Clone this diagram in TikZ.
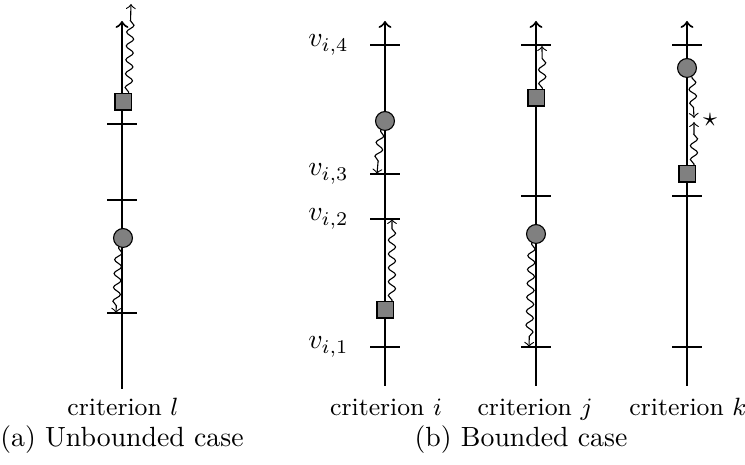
\documentclass[tikz,border=0pt]{standalone}
\usetikzlibrary{decorations.pathmorphing}
\begin{document}
\begin{tikzpicture}[x=0.36pt,y=-0.36pt,
  axis/.style={line width=0.75pt,->,>=to},
  tickmark/.style={line width=0.75pt},
  wave/.style={->,>=to,line width=0.4pt,decorate,decoration={snake,amplitude=1.3pt,segment length=5pt,pre length=0.5pt,post length=2.5pt}},
  sq/.style={draw,line width=0.4pt,fill=gray,minimum size=5.8pt,inner sep=0pt},
  dot/.style={draw,line width=0.4pt,fill=gray,circle,minimum size=6.8pt,inner sep=0pt},
  crit/.style={inner sep=0pt,font=\small,anchor=base},
  subcap/.style={inner sep=0pt,anchor=base},
  lab/.style={inner sep=1pt}]
\useasboundingbox (0,0) rectangle (745,465);
% axis l
\coordinate (lb) at (122,389); \coordinate (lt) at (122,21);
\draw[axis] (lb) -- (lt);
\foreach \y/\n in {124/l1,200/l2,313/l3}{\coordinate (\n) at (122,\y); \draw[tickmark] ([xshift=-5.4pt]\n) -- ([xshift=5.4pt]\n);}
\node[sq] (sl) at (123,102) {};
\node[dot] (cl) at (123,238) {};
\coordinate (wl1) at (131,4);
\coordinate (wl2) at (116,313);
\draw[wave,decoration={post length=6pt}] ([xshift=2pt]sl.north) -- (wl1);
\draw[wave] (cl.-115) -- (wl2);
\node[crit] (capl) at (123,416) {criterion $l$};
\node[subcap] (capa) at (122,447) {(a) Unbounded case};
% axis i
\coordinate (ib) at (385,386); \coordinate (it) at (385,21);
\draw[axis] (ib) -- (it);
\foreach \y/\n in {45/i4,174/i3,219/i2,347/i1}{\coordinate (\n) at (385,\y); \draw[tickmark] ([xshift=-5.4pt]\n) -- ([xshift=5.4pt]\n);}
\node[lab,anchor=east] (v4) at (352,45) {$v_{i,4}$};
\node[lab,anchor=east] (v3) at (352,174) {$v_{i,3}$};
\node[lab,anchor=east] (v2) at (352,219) {$v_{i,2}$};
\node[lab,anchor=east] (v1) at (352,347) {$v_{i,1}$};
\node[dot] (ci) at (385,121) {};
\node[sq] (si) at (385,310) {};
\coordinate (wi1) at (377,174);
\coordinate (wi2) at (392,219);
\draw[wave] (ci.-115) -- (wi1);
\draw[wave] ([xshift=2.5pt]si.north) -- (wi2);
\node[crit] (capi) at (386,416) {criterion $i$};
% axis j
\coordinate (jb) at (536,386); \coordinate (jt) at (536,21);
\draw[axis] (jb) -- (jt);
\foreach \y/\n in {45/j3,196/j2,347/j1}{\coordinate (\n) at (536,\y); \draw[tickmark] ([xshift=-5.4pt]\n) -- ([xshift=5.4pt]\n);}
\node[sq] (sj) at (536,98) {};
\node[dot] (cj) at (536,234) {};
\coordinate (wj1) at (542,46);
\coordinate (wj2) at (529,347);
\draw[wave] ([xshift=2.3pt]sj.north) -- (wj1);
\draw[wave] (cj.-115) -- (wj2);
\node[crit] (capj) at (535,416) {criterion $j$};
% axis k
\coordinate (kb) at (687,386); \coordinate (kt) at (687,21);
\draw[axis] (kb) -- (kt);
\foreach \y/\n in {45/k3,196/k2,347/k1}{\coordinate (\n) at (687,\y); \draw[tickmark] ([xshift=-5.4pt]\n) -- ([xshift=5.4pt]\n);}
\node[dot] (ck) at (687,68) {};
\node[sq] (sk) at (687,174) {};
\coordinate (wk1) at (694,118);
\coordinate (wk2) at (694,122);
\draw[wave] (ck.-60) -- (wk1);
\draw[wave] ([xshift=2.5pt]sk.north) -- (wk2);
\node[lab] (star) at (710,120) {$\star$};
\node[crit] (capk) at (688,416) {criterion $k$};
\node[subcap] (capb) at (521,447) {(b) Bounded case};
\end{tikzpicture}
\end{document}
